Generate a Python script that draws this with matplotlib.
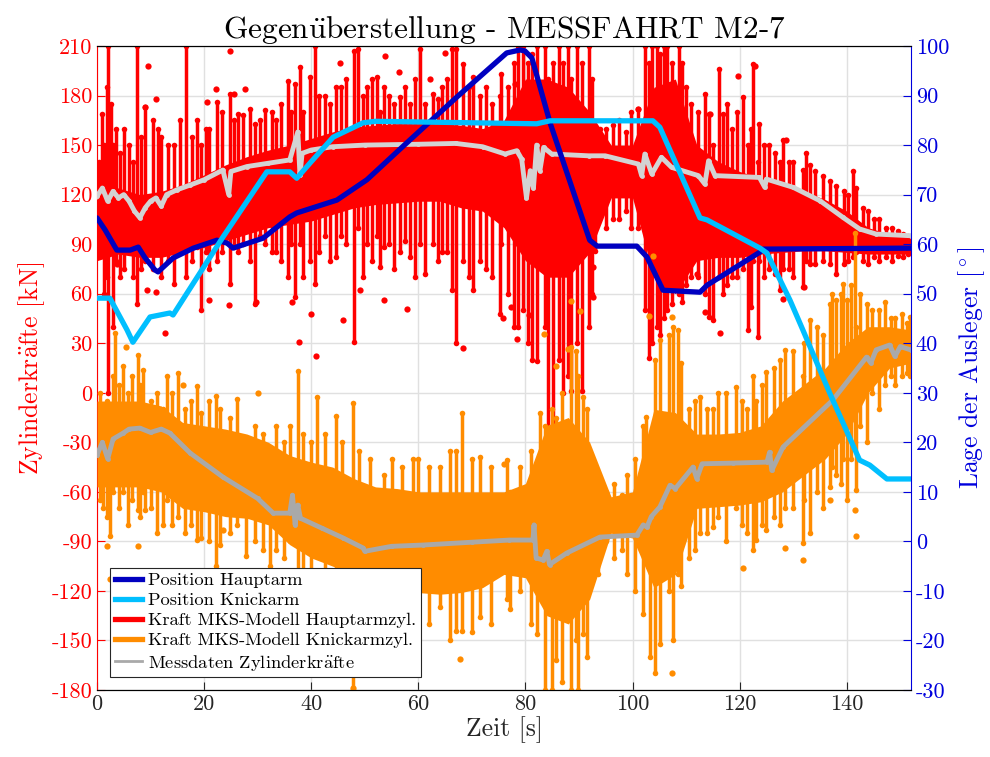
import matplotlib
matplotlib.use("Agg")
import matplotlib.pyplot as plt
from matplotlib.lines import Line2D
import numpy as np

plt.rcParams['font.family'] = ['cmr10', 'DejaVu Serif']
plt.rcParams['mathtext.fontset'] = 'cm'
plt.rcParams['axes.unicode_minus'] = False
plt.rcParams['axes.formatter.use_mathtext'] = False

# ---- data ----
# position of the booms [deg], right axis
t_haupt = [0, 1.5, 3.7, 6.2, 7.7, 9, 10.8, 11.4, 14.2, 18, 22.4, 24.3, 25.4, 31, 36, 37.3,
           44.8, 50.4, 58.4, 67.2, 76.5, 79, 79.9, 81.2, 84.6, 92, 93.4, 100.8, 102.7,
           105.7, 112.6, 113.9, 123.8, 124.4, 152]
pos_haupt = [65.3, 62.9, 58.8, 58.8, 59.4, 57.2, 54.8, 54.4, 57.2, 59.2, 60.8, 60.2, 59.2,
             61.2, 65.5, 66.3, 68.9, 73, 81, 89.7, 98.6, 99.2, 99, 97.6, 84.5, 60.8, 59.6,
             59.6, 57.4, 50.7, 50.3, 51.7, 58.4, 59, 59.2]

t_knick = [0, 2.4, 5.6, 6.7, 9.9, 13.6, 14.2, 16.8, 23.5, 31.7, 36, 37.3, 39.8, 44.1, 49.7,
           52, 82.1, 84.6, 103.8, 105.1, 112.6, 113.9, 123.8, 125.1, 129.4, 131.8, 136.8,
           142.4, 144.3, 147.5, 152]
pos_knick = [49.1, 49.1, 42.7, 40.2, 45.3, 46.1, 45.7, 50.1, 61.4, 74.6, 74.6, 73.3, 76.4,
             81.6, 84.5, 84.8, 84.3, 84.9, 84.9, 83.6, 65.3, 64.9, 59.2, 58.2, 48.7, 42.7,
             30, 16.4, 15.4, 12.6, 12.6]

# measured cylinder forces [kN]
t_mess_h = [0, 1, 2, 3, 4, 5, 6, 7, 8, 9, 10, 11, 12, 13, 15, 17.4, 20, 23.5, 24.6, 25,
            28, 32, 36, 37.5, 37.9, 38.3, 40, 44, 50, 60, 67, 72, 76.2, 78.4, 79.3, 80.2,
            80.9, 81.5, 82.1, 82.7, 83.4, 84.9, 91.8, 94.9, 101.1, 101.7, 102.3, 103.6,
            105.4, 107.3, 112.3, 113.5, 114.2, 115.4, 123.7, 124.7, 125, 130, 135, 139.3,
            142.4, 145.5, 152]
f_mess_h = [119, 124, 116, 122, 118, 120, 116, 110, 106, 112, 116, 118, 113, 120, 123,
            125.8, 129, 134.9, 120, 134, 137, 139, 141, 158, 132, 145, 147, 149, 150, 150.5,
            151, 149, 144.6, 146.6, 141.5, 118, 134.5, 124, 150, 134.5, 148.6, 144.6,
            143.5, 143.5, 138.5, 131.5, 144.6, 132.5, 142.6, 136.5, 131.5, 126.4, 140.5,
            131.5, 130.4, 124.4, 129.4, 124.4, 116.3, 106.2, 99.2, 96.1, 95.1]

t_mess_k = [0, 1, 2, 3, 4.9, 6, 8, 10, 12, 13.6, 17.4, 23.5, 30, 32.9, 36, 36.5, 37, 37.5,
            38, 42, 46, 49.7, 50, 55, 60.9, 70, 77, 81.4, 81.6, 82, 83.3, 84, 84.5, 87.7,
            93.9, 100.8, 102, 102.7, 103.5, 105.1, 107, 108, 111.3, 112, 113, 118.7, 125.1,
            125.6, 126, 128.1, 137.4, 143.7, 144.5, 145.5, 148, 149, 150, 152]
f_mess_k = [-37.7, -30, -40, -28, -24.4, -22, -21.4, -24, -22, -24.4, -36.5, -51, -64, -72.9,
            -72.9, -62, -80, -68, -76, -82, -88, -94, -96, -93, -92.2, -90.5, -89.2, -89.2,
            -80, -100, -101.3, -96, -104, -97.1, -87.4, -86.2, -80, -81.3, -75, -69.2, -56,
            -58, -45, -52, -43, -42.6, -42, -36, -47, -32.9, -4.4, 21.6, 18, 26, 28.9, 22,
            28, 25.9]

# MKS model forces: dense band (lower/upper edge) plus single peaks
t_band = [0, 4, 8, 12, 16, 20, 24, 28, 32, 36, 40, 44, 48, 52, 56, 60, 64, 68, 72, 76, 80,
          84, 88, 92, 96, 100, 104, 108, 112, 116, 120, 124, 128, 132, 136, 140, 144, 148, 152]
haupt_hi = [126, 124, 120, 122, 126, 132, 138, 143, 147, 150, 154, 158, 161, 162, 163, 163,
            163, 162, 160, 165, 190, 190, 185, 170, 150, 150, 185, 190, 150, 140, 134, 130,
            127, 122, 117, 110, 100, 96, 94]
haupt_lo = [80, 84, 82, 82, 85, 88, 92, 96, 100, 102, 104, 108, 112, 114, 115, 116, 116, 112,
            110, 100, 80, 70, 70, 85, 118, 118, 70, 60, 80, 82, 82, 84, 85, 86, 86, 85, 84,
            84, 84]
knick_hi = [-5, -5, -5, -8, -18, -20, -22, -25, -30, -38, -42, -45, -52, -57, -58, -60, -60,
            -60, -60, -60, -55, -20, -15, -30, -63, -60, -10, -12, -25, -25, -24, -20, -5, 5,
            15, 30, 40, 40, 38]
knick_lo = [-57, -57, -57, -60, -70, -72, -75, -76, -80, -92, -100, -105, -110, -118, -120,
            -121, -122, -121, -118, -110, -112, -135, -140, -125, -85, -88, -118, -110, -70,
            -69, -68, -66, -60, -50, -40, -25, 0, 15, 18]

t_spk_h = [0.9, 1.8, 2.1, 3.0, 5.0, 7.4, 9.0, 10.5, 12.0, 14.3, 16.7, 19.5, 21.0, 22.5, 24.8,
           26.4, 29.5, 31.4, 33.5, 35.7, 37.0, 37.9, 38.5, 39.8, 40.7, 42.5, 44.7, 46.5,
           47.9, 48.8, 50.5, 52.2, 52.8, 54.5, 56.6, 58.4, 60.3, 61.2, 62.8, 64.5, 66.2,
           67.1, 68.4, 70.3, 72.7, 75.2, 75.5, 78.7, 80.5, 82.1, 83.7, 84.3, 85.2, 86.2,
           88.0, 88.6, 89.6, 90.5, 91.8, 93.0, 95.0, 97.5, 101.1, 102.3, 103.0, 104.6,
           105.1, 106.4, 107.3, 108.6, 110.0, 111.0, 113.5, 114.2, 115.0, 116.1, 116.9,
           118.5, 120.6, 121.6, 122.2, 122.5, 123.4, 123.7, 125.5, 127.5, 128.1, 130.0,
           131.8, 132.4, 134.0, 135.6, 138.0, 139.5, 141.2, 141.8, 144.0, 146.0, 148.5, 150.5,
           0.3, 1.3, 2.7, 3.6, 4.3, 6.0, 6.7, 8.2, 11.3, 13.2, 15.5, 17.8, 18.7, 20.3, 23.3,
           25.6, 27.3, 28.6, 30.5, 32.6, 34.4, 36.3, 41.5, 43.5, 45.6, 49.6, 51.3, 53.6,
           55.5, 57.5, 59.3, 63.6, 65.3, 69.4, 71.5, 73.8, 76.8, 77.8, 79.6, 81.2, 87.1,
           92.5, 94.0, 96.3, 98.7, 99.8, 103.6, 105.8, 109.3, 112.3, 117.6, 119.5, 124.6,
           126.6, 129.2, 133.2, 136.8, 140.3, 143.0, 145.0, 147.3, 149.5, 151.5]
spk_h_lo = [90, 70, 0, 40, 75, 54, 80, 75, 70, 66, 70, 50, 75, 80, 66, 85, 54, 90, 85, 70,
            58, 90, 70, 80, 66, 95, 82, 90, 31, 100, 90, 95, 76, 90, 85, 82, 90, 72, 90, 85,
            62, 30, 80, 62, 75, 48, 90, 40, 30, 19, 40, -31, -27, 20, 10, 1, 30, 1, 40, 86,
            100, 105, 100, 50, 21, 40, 35, 50, 54, 60, 65, 70, 60, 46, 44, 70, 60, 70, 75, 38,
            52, 80, 34, 80, 75, 62, 75, 70, 64, 80, 78, 80, 72, 78, 82, 85, 78, 80, 80, 82,
            95, 60, 85, 80, 70, 85, 70, 75, 85, 80, 85, 80, 88, 85, 85, 88, 90, 80, 95, 85,
            80, 90, 85, 80, 95, 70, 80, 88, 75, 92, 70, 80, 85, 70, 80, 70, 60, 40, 50, 20,
            0, 60, 110, 105, 110, 100, 30, 45, 55, 70, 65, 70, 70, 72, 75, 78, 78, 80, 80, 82,
            82, 83, 84]
spk_h_hi = [169, 185, 210, 150, 160, 210, 173, 165, 155, 150, 210, 150, 160, 176, 181, 169,
            163, 171, 165, 189, 187, 197, 170, 191, 210, 180, 185, 190, 207, 208, 185, 191,
            170, 180, 179, 175, 208, 175, 181, 185, 208, 208, 199, 191, 185, 180, 193, 210,
            200, 210, 210, 190, 200, 210, 210, 190, 210, 200, 210, 150, 160, 165, 172, 210,
            200, 210, 205, 210, 200, 210, 185, 175, 181, 169, 150, 196, 169, 160, 179, 150,
            160, 199, 140, 163, 150, 140, 153, 140, 135, 145, 134, 131, 125, 122, 134, 124,
            110, 105, 100, 96,
            140, 150, 175, 160, 145, 150, 140, 155, 160, 150, 165, 155, 165, 160, 170, 165,
            168, 172, 165, 170, 175, 170, 180, 175, 185, 180, 190, 185, 175, 185, 190, 178,
            190, 185, 180, 175, 185, 200, 210, 205, 200, 190, 160, 162, 158, 170, 210, 210,
            200, 170, 175, 170, 150, 145, 140, 138, 128, 120, 112, 105, 100, 98, 95]

t_spk_k = [1.2, 2.4, 3.4, 4.9, 7.7, 8.6, 9.0, 13.0, 15.2, 18.6, 22.3, 26.1, 27.9, 32.3,
           36.0, 37.6, 41.0, 44.7, 47.8, 53.5, 60.0, 64.0, 67.1, 68.1, 71.5, 76.5, 77.1,
           82.1, 82.7, 83.6, 84.6, 84.9, 85.8, 88.6, 89.5, 89.9, 90.8, 95.0, 98.0, 102.0,
           102.6, 103.2, 105.1, 106.8, 107.6, 108.4, 109.1, 112.6, 115.1, 116.0, 119.4,
           121.3, 123.1, 125.0, 128.4, 131.9, 133.1, 136.8, 138.0, 139.3, 140.0, 141.5,
           141.8, 143.7, 146.0, 149.0, 151.8,
           0.5, 1.8, 2.9, 4.2, 5.8, 6.5, 8.0, 10.0, 11.2, 12.3, 14.0, 16.5, 17.5, 19.5,
           21.0, 23.0, 24.8, 29.5, 31.0, 33.5, 35.0, 38.5, 40.0, 42.5, 45.8, 49.0, 51.0,
           55.0, 57.0, 59.0, 62.0, 66.0, 70.0, 73.5, 79.0, 81.0, 86.8, 91.5, 93.5, 96.5,
           99.0, 100.5, 104.2, 110.5, 111.6, 114.0, 117.5, 120.5, 122.5, 124.2, 126.5,
           127.5, 130.0, 132.0, 134.5, 135.5, 137.2, 139.0, 140.8, 142.5, 144.8, 147.2,
           148.2, 150.3, 151.2]
spk_k_lo = [-70, -87, -40, -60, -71, -60, -71, -65, -75, -89, -105, -80, -99, -105, -90,
            -112, -95, -110, -180, -146, -135, -130, -144, -144, -136, -125, -131, -146,
            -110, -180, -120, -180, -162, -180, -150, -180, -146, -90, -95, -134, -100, -160,
            -152, -120, -150, -110, -117, -85, -81, -75, -70, -85, -89, -83, -70, -91, -85,
            -57, -50, -40, -65, -30, -59, -30, -10, 5, 10,
            -65, -75, -60, -70, -80, -65, -75, -70, -85, -80, -80, -85, -80, -88, -90, -92,
            -85, -90, -95, -95, -100, -110, -115, -120, -130, -140, -135, -145, -140, -135,
            -140, -150, -145, -140, -120, -140, -175, -160, -110, -100, -110, -120, -170,
            -100, -95, -85, -90, -80, -95, -80, -75, -80, -70, -65, -60, -70, -45, -55, -40,
            -20, 0, 5, 10, 10, 12]
spk_k_hi = [-10.5, -20, 36, 16, 23, 14, -20, 10, 12, 4, -2, -4, -30, -40, -20, 13, -2.4, -14,
            -6.4, -50, -40, -45, -35, -12, -39, -41, -60, -50, -12.5, -20, -20.6, -10, -15,
            28, 25, 10, -2.4, -60, -62, -20, -14.5, -30, 32, 35, 40, 38, 18, -2.4, -10, -0.4,
            3.6, -10, -5, 12.7, 26, 10, 44, 54, 56, 66, 56, 97, 40, 54, 50, 45, 46,
            0, -5, 10, 5, 0, 10, 5, -5, 0, -10, 0, -10, -5, -12, -5, -10, -15, -20, -25, -20,
            -30, -25, -30, -25, -30, -35, -40, -40, -45, -40, -45, -35, -40, -45, -45, -35,
            0, -10, -50, -55, -50, -40, 20, -10, -5, -10, 0, -5, 10, 5, 15, 20, 25, 30, 40,
            35, 60, 60, 65, 60, 50, 55, 45, 48, 42]

# single outliers
t_dot_h = [9.6, 24.8, 11.1, 8.97, 22.2, 27.6, 25.6, 20.5, 3.7, 9.3, 11.1, 12.7, 21.0, 24.6,
           29.6, 36.5, 37.7, 45.4, 53.8, 56.3, 62.2, 65.0, 40.9, 49.1, 53.5, 57.8, 68.4, 75.9,
           46.0, 39.9, 78.4, 80.6, 77.4, 92.7, 92.7, 113.5, 112.0, 78.1, 101.1, 114.5, 119.7,
           122.8, 128.7, 116.3, 128.1, 132.1]
f_dot_h = [198, 207, 178, 173, 184, 184, 181, 176, 78, 62, 61, 36, 56, 53, 55, 55, 31, 200,
           204, 194, 190, 206, 22, 62, 56, 51, 27, 45, 44, 48, 32.5, 47, 52, 58, 76, 49, 72,
           187, 172, 169, 192, 198, 153, 36, 57, 64]
t_dot_k = [1.8, 7.7, 2.4, 23.6, 47.8, 67.8, 107.3, 120.7, 131.9, 128.4, 141.8, 136.8, 141.5,
           76.0, 88.6, 90.2, 83.4, 85.8, 88.0, 103.0, 103.9, 107.3, 5.5, 16.0, 30.0, 58.0]
f_dot_k = [-93, -93, -113, -83, -179, -161, -170, -106, -101, -94, -87, -65, -71, -43, 55.7,
           49.7, 35.5, 16.4, 26.5, 46.6, 83, 45.6, 28, 5, 0, -140]

# ---- colours ----
c_red = '#FF0000'
c_orange = '#FF8C00'
c_blue = '#0000C0'
c_cyan = '#00BFFF'
c_gray_l = '#D3D3D3'
c_gray_d = '#A9A9A9'
c_axis_r = '#0000DD'

fig = plt.figure(figsize=(9.9, 7.57), dpi=100)
ax = fig.add_axes([97 / 990, 1 - 690 / 757, 814 / 990, 644 / 757])

# model forces
ax.fill_between(t_band, haupt_lo, haupt_hi, color=c_red, lw=0, zorder=2)
ax.vlines(t_spk_h, spk_h_lo, spk_h_hi, color=c_red, lw=2.5, zorder=2)
ax.plot(t_spk_h, spk_h_lo, 'o', color=c_red, ms=4, mec='none', zorder=2)
ax.plot(t_spk_h, spk_h_hi, 'o', color=c_red, ms=4, mec='none', zorder=2)
ax.plot(t_dot_h, f_dot_h, 'o', color=c_red, ms=4.5, mec='none', zorder=2)

ax.fill_between(t_band, knick_lo, knick_hi, color=c_orange, lw=0, zorder=3)
ax.vlines(t_spk_k, spk_k_lo, spk_k_hi, color=c_orange, lw=2.5, zorder=3)
ax.plot(t_spk_k, spk_k_lo, 'o', color=c_orange, ms=4, mec='none', zorder=3)
ax.plot(t_spk_k, spk_k_hi, 'o', color=c_orange, ms=4, mec='none', zorder=3)
ax.plot(t_dot_k, f_dot_k, 'o', color=c_orange, ms=4.5, mec='none', zorder=3)

# measurements
ax.plot(t_mess_h, f_mess_h, '-o', color=c_gray_l, lw=3.5, ms=3.5, mec='none', zorder=4)
ax.plot(t_mess_k, f_mess_k, '-o', color=c_gray_d, lw=3.5, ms=3.5, mec='none', zorder=4)

ax.set_xlim(0, 152)
ax.set_ylim(-180, 210)
ax.set_yticks(np.arange(-180, 211, 30))
ax.set_xticks(np.arange(0, 141, 20))
ax.grid(True, color='#E0E0E0', lw=1)
ax.set_axisbelow(True)
ax.tick_params(axis='y', colors=c_red, labelsize=16, direction='in', length=6)
ax.tick_params(axis='x', colors='#262626', labelcolor='#262626', labelsize=16,
               direction='in', length=6)
ax.spines['left'].set_color(c_red)
ax.spines['right'].set_visible(False)
ax.set_ylabel('Zylinderkr$\\ddot{\\mathrm{a}}$fte [kN]', color=c_red, fontsize=18.5, labelpad=3)
ax.set_xlabel('Zeit [s]', fontsize=18.5, color='#262626', labelpad=1)
ax.set_title('Gegen$\\ddot{\\mathrm{u}}$berstellung - MESSFAHRT M2-7', fontsize=22.5, pad=5)

# positions on the right axis
ax2 = ax.twinx()
ax2.plot(t_haupt, pos_haupt, color=c_blue, lw=3.8, solid_capstyle='round')
ax2.plot(t_knick, pos_knick, color=c_cyan, lw=3.8, solid_capstyle='round')
ax2.set_ylim(-30, 100)
ax2.set_yticks(np.arange(-30, 101, 10))
ax2.tick_params(axis='y', colors=c_axis_r, labelsize=16, direction='in', length=6)
ax2.spines['right'].set_color(c_axis_r)
ax2.spines['left'].set_visible(False)
ax2.set_ylabel('Lage der Ausleger [$^\\circ$]', color=c_axis_r, fontsize=18.5, labelpad=5)

handles = [Line2D([], [], color=c_blue, lw=3.8),
           Line2D([], [], color=c_cyan, lw=3.8),
           Line2D([], [], color=c_red, lw=3.8),
           Line2D([], [], color=c_orange, lw=3.8),
           Line2D([], [], color=c_gray_d, lw=2)]
labels = ['Position Hauptarm', 'Position Knickarm', 'Kraft MKS-Modell Hauptarmzyl.',
          'Kraft MKS-Modell Knickarmzyl.', 'Messdaten Zylinderkr$\\ddot{\\mathrm{a}}$fte']
leg = ax2.legend(handles, labels, loc='lower left', bbox_to_anchor=(0.016, 0.02),
                 borderaxespad=0, fontsize=13.3, frameon=True, fancybox=False,
                 edgecolor='#262626', framealpha=1, handlelength=1.5, handletextpad=0.3,
                 labelspacing=0.22, borderpad=0.25)
leg.get_frame().set_linewidth(0.8)

fig.savefig('out.png', dpi=100)
